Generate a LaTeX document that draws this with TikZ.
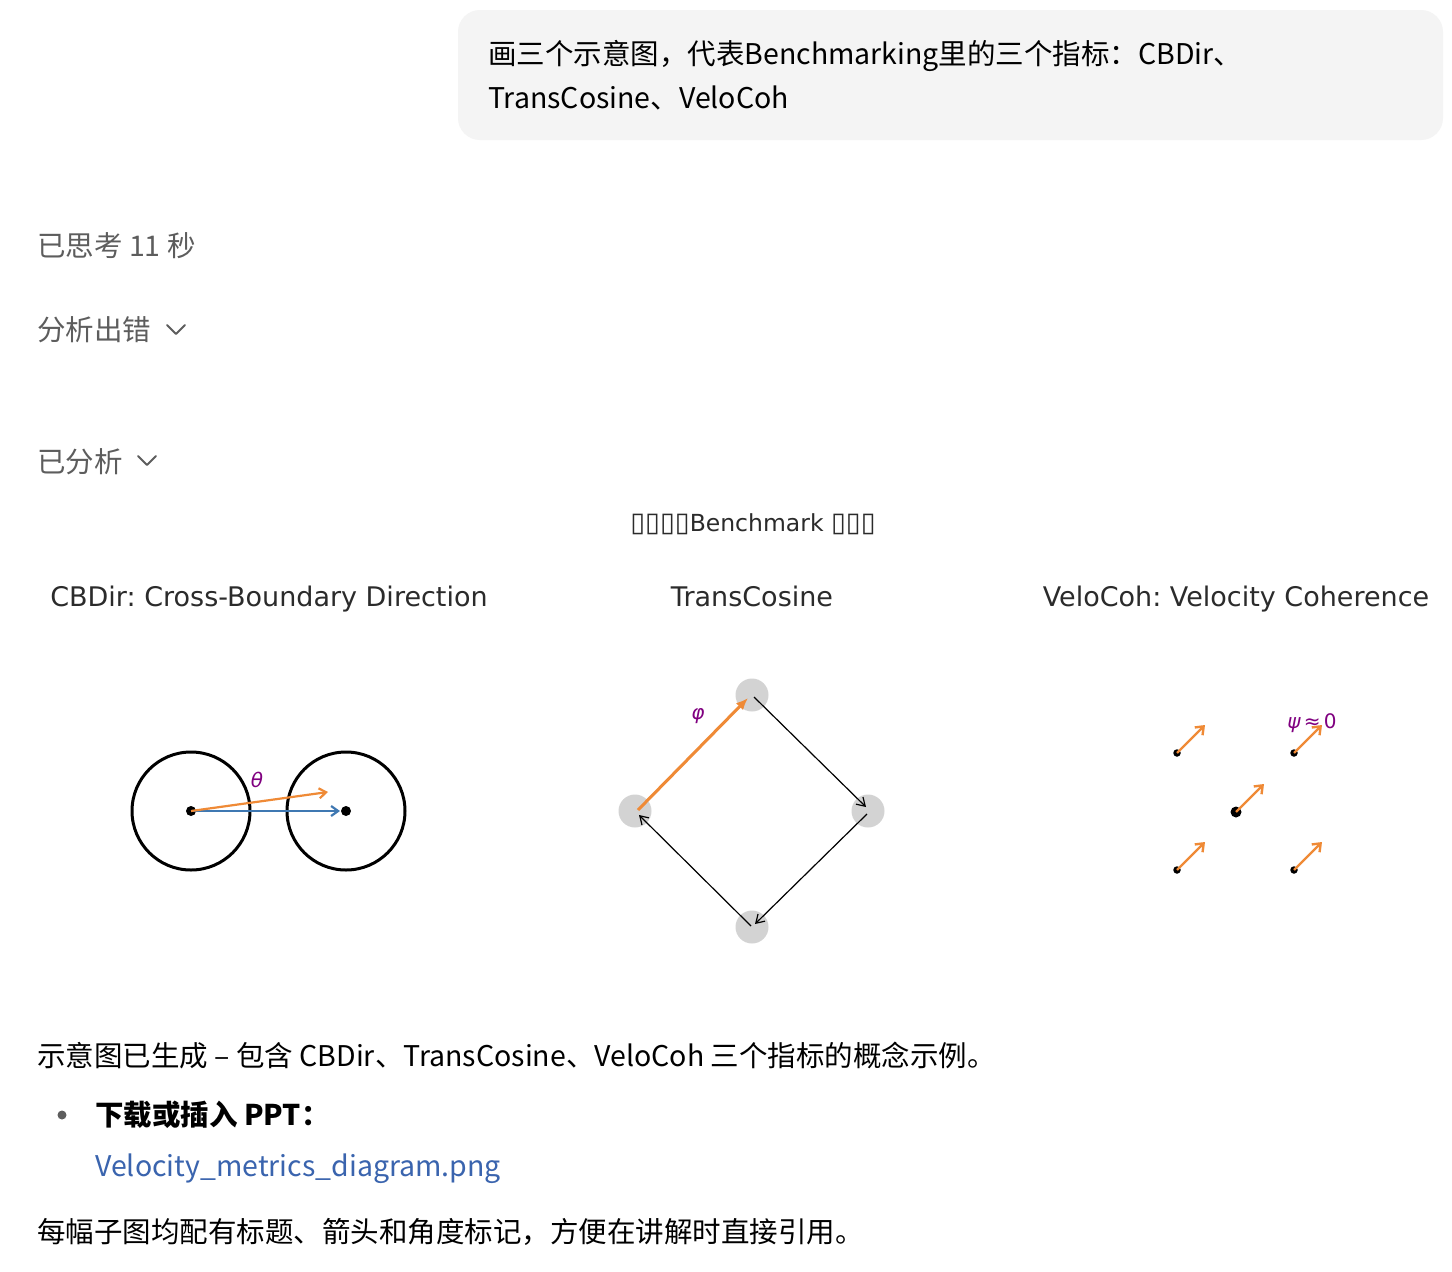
\documentclass[tikz,border=0pt]{standalone}
\usepackage{fontspec}
\usetikzlibrary{arrows.meta,calc}
\newfontfamily\cjk{Noto Sans CJK SC}
\newfontfamily\dvs{DejaVu Sans}
\definecolor{uigray}{HTML}{5D5D5D}
\definecolor{bubble}{HTML}{F4F4F4}
\definecolor{mplorange}{HTML}{EF8A36}
\definecolor{mplblue}{HTML}{3F78B2}
\definecolor{mplpurple}{HTML}{800080}
\definecolor{mpltext}{HTML}{2B2B2B}
\definecolor{linkblue}{HTML}{3A64AE}
\definecolor{nodegray}{HTML}{D3D3D3}
\frenchspacing
\begin{document}
\begin{tikzpicture}[x=1pt,y=-1pt,
  uitext/.style={inner sep=0pt,anchor=base west,font=\cjk\fontsize{28.5}{33}\selectfont},
  mpltitle/.style={inner sep=0pt,anchor=base,text=mpltext,font=\dvs\fontsize{27}{30}\selectfont},
  greek/.style={inner sep=0pt,text=mplpurple,font=\dvs\fontsize{20}{24}\selectfont},
  bigcircle/.style={circle,draw=black,line width=3pt,minimum size=118pt,inner sep=0pt},
  dot/.style={circle,fill=black,inner sep=0pt,minimum size=#1},
  tcnode/.style={circle,fill=nodegray,inner sep=0pt,minimum size=33pt},
  thinarrow/.style={draw=black,line width=1.2pt,-{Straight Barb[length=8pt,width=10pt]}},
  velarrow/.style={draw=mplorange,line width=2.4pt,-{Straight Barb[length=7pt,width=11pt]}},
  chev/.style={draw=uigray,line width=2pt,line cap=round,line join=round}
]
\useasboundingbox (0,0) rectangle (1452,1272);
\fill[white] (0,0) rectangle (1452,1272);

% user bubble
\fill[bubble,rounded corners=22pt] (458,10) rectangle (1443,140);
\node[uitext,text=black] (q1) at (488,64) {画三个示意图，代表Benchmarking里的三个指标：CBDir、};
\node[uitext,text=black] (q2) at (488,108) {TransCosine、VeloCoh};

% status lines
\node[uitext,text=uigray] (think) at (37,256) {已思考 11 秒};
\node[uitext,text=uigray] (err) at (37,340) {分析出错};
\draw[chev] (167,325) -- (176,334) -- (185,325);
\node[uitext,text=uigray] (done) at (37,472) {已分析};
\draw[chev] (138,456) -- (147,465) -- (156,456);

% figure title
\node[inner sep=0pt,anchor=base,text=mpltext,font=\dvs\fontsize{23.5}{28}\selectfont] (figtitle) at (753,531) {{\fontsize{27}{28}\selectfont ▯▯▯▯}Benchmark {\fontsize{27}{28}\selectfont ▯▯▯}};
\node[mpltitle] (t1) at (269,606) {CBDir: Cross-Boundary Direction};
\node[mpltitle] (t2) at (752,606) {TransCosine};
\node[mpltitle] (t3) at (1236,606) {VeloCoh: Velocity Coherence};

% CBDir
\node[bigcircle] (c1) at (191,811) {};
\node[bigcircle] (c2) at (346,811) {};
\node[dot=10pt] (p1) at (c1.center) {};
\node[dot=10pt] (p2) at (c2.center) {};
\draw[draw=mplblue,line width=2.2pt,-{Straight Barb[length=7pt,width=10pt]}] (p1.center) -- ([xshift=-6pt]p2.center);
\coordinate (oend) at ($(p1.center)+(137,-19)$);
\draw[draw=mplorange,line width=2.2pt,-{Straight Barb[length=7pt,width=10pt]}] (p1.center) -- (oend);
\node[greek,font=\dvs\itshape\fontsize{20}{24}\selectfont] (theta) at (257,780) {θ};

% TransCosine
\node[tcnode] (ntop) at (752,695) {};
\node[tcnode] (nrgt) at (868,811) {};
\node[tcnode] (nbot) at (752,927) {};
\node[tcnode] (nlft) at (635,811) {};
\draw[draw=mplorange,line width=3pt,-{Latex[length=12pt,width=10pt]}] ([shift={(3,-1)}]nlft.center) -- ([shift={(-4,3)}]ntop.center);
\draw[thinarrow] ([shift={(2,2)}]ntop.center) -- ([shift={(-2,-4)}]nrgt.center);
\draw[thinarrow] ([shift={(-1,3)}]nrgt.center) -- ([shift={(3,-3)}]nbot.center);
\draw[thinarrow] ([shift={(-1,-1)}]nbot.center) -- ([shift={(4,4)}]nlft.center);
\node[greek,font=\dvs\itshape\fontsize{20}{24}\selectfont] (phi) at (698,716) {φ};

% VeloCoh
\node[dot=7.5pt] (v1) at (1177,753) {};
\node[dot=7.5pt] (v2) at (1294,753) {};
\node[dot=11pt] (v3) at (1236,812) {};
\node[dot=7.5pt] (v4) at (1177,870) {};
\node[dot=7.5pt] (v5) at (1294,870) {};
\foreach \v in {v1,v2,v3,v4,v5}{
  \draw[velarrow] (\v.center) -- ($(\v.center)+(28,-28)$);
}
\node[greek] (psi) at (1312,723) {{\itshape ψ}\,≈\,0};

% bottom text
\node[uitext,text=black] (r1) at (37,1066) {示意图已生成 – 包含 CBDir、TransCosine、VeloCoh 三个指标的概念示例。};
\fill[uigray] (62,1115) circle[radius=4.5pt];
\node[uitext,text=black,font=\cjk\bfseries\fontsize{28.5}{33}\selectfont] (r2) at (95,1125) {下载或插入 PPT：};
\node[uitext,text=linkblue] (r3) at (95,1176) {Velocity\_metrics\_diagram.png};
\node[uitext,text=black] (r4) at (37,1242) {每幅子图均配有标题、箭头和角度标记，方便在讲解时直接引用。};
\end{tikzpicture}
\end{document}
